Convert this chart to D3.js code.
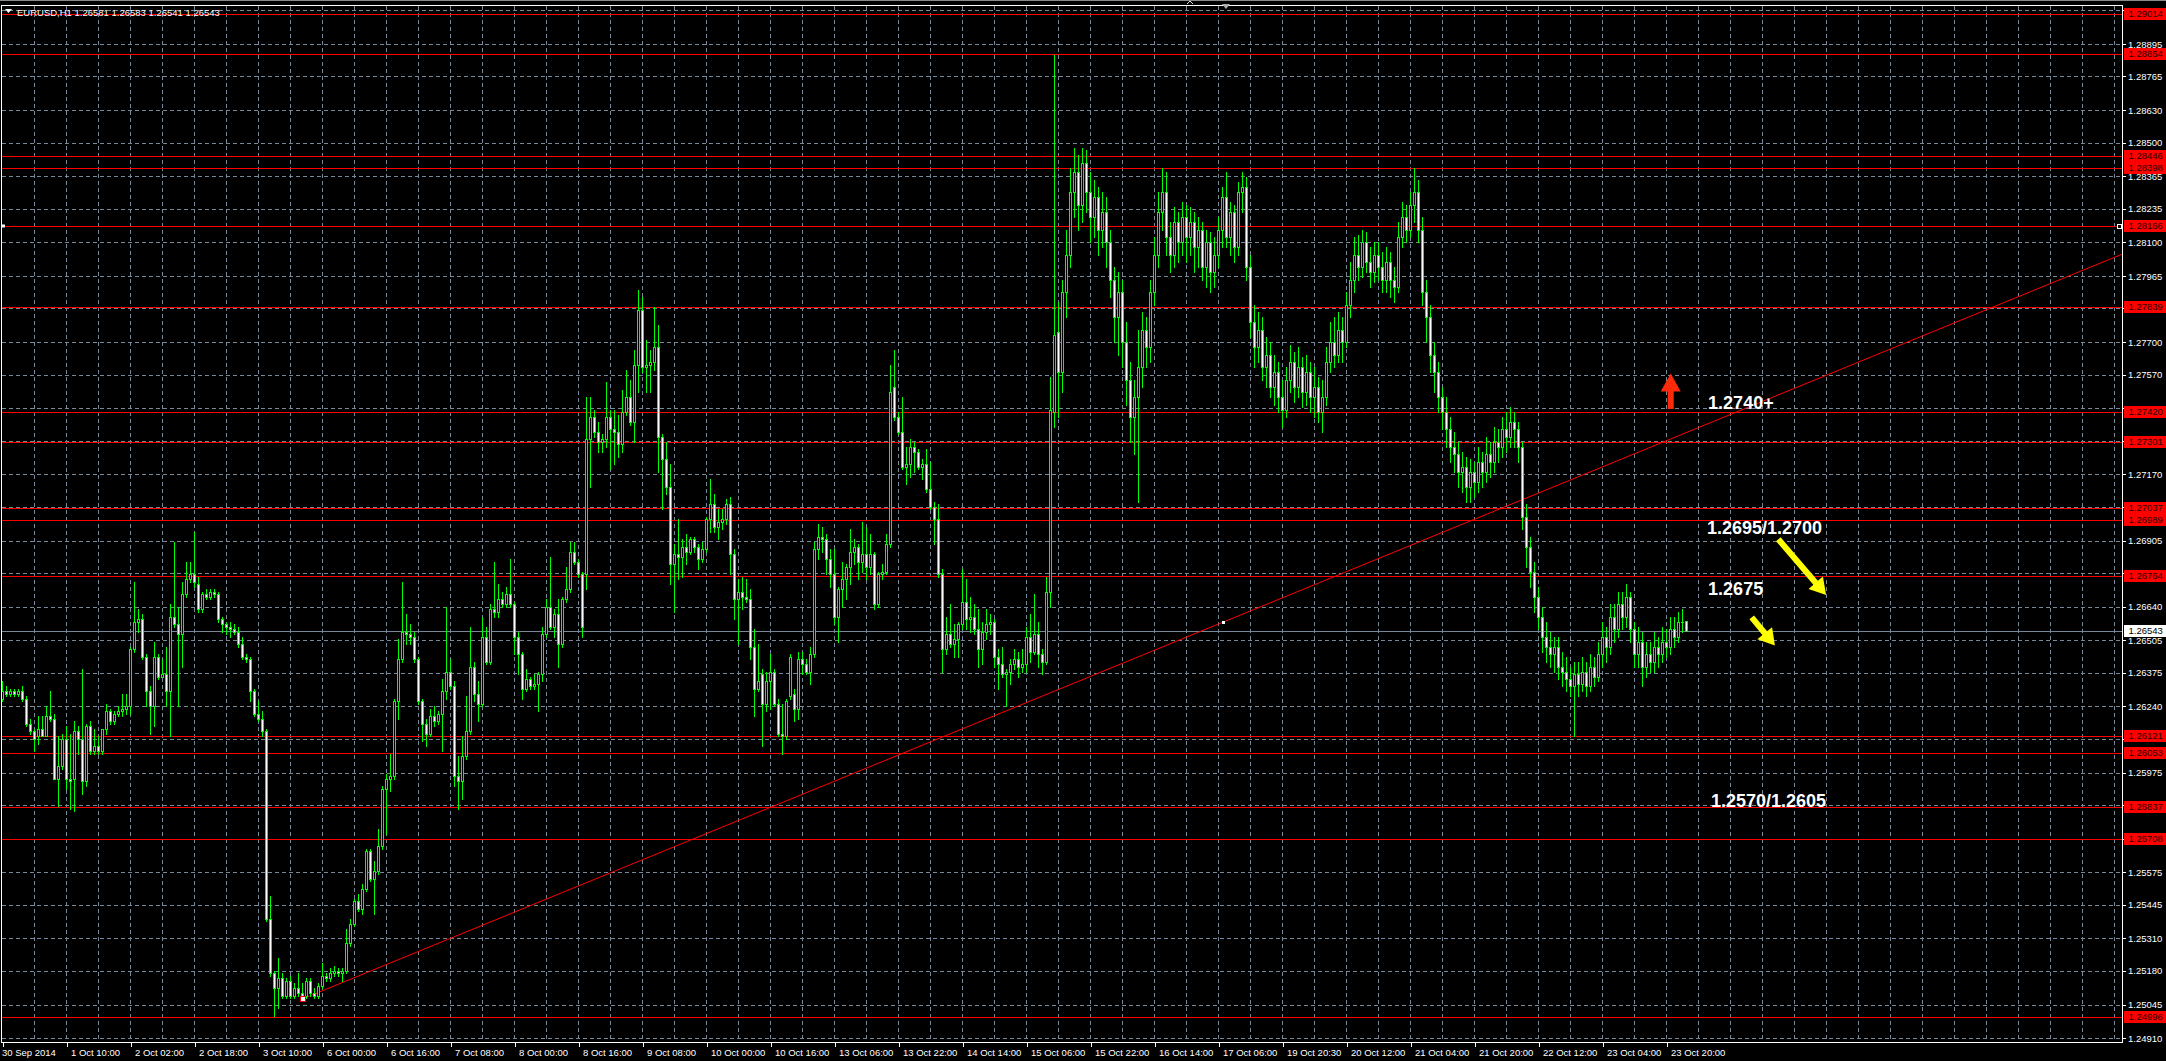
<!DOCTYPE html>
<html><head><meta charset="utf-8">
<script src="https://cdn.jsdelivr.net/npm/d3@7"></script>
<style>
html,body{margin:0;padding:0;background:#000;overflow:hidden}
svg{display:block}
text{font-family:"Liberation Sans",Arial,sans-serif}
</style></head><body>
<svg id="c" width="2166" height="1061"></svg>
<script>
// ---------------- DATA ----------------
const symbolTitle = "EURUSD,H1  1.26581 1.26583 1.26541 1.26543";

const opens = [
1.2627,1.2630,1.2629,1.2630,1.2629,1.2630,1.2627,1.2617,1.2614,1.2612,
1.2615,1.2612,1.2620,1.2619,1.2595,1.2600,1.2611,1.2595,1.2595,1.2614,
1.2611,1.2594,1.2616,1.2606,1.2608,1.2606,1.2615,1.2622,1.2618,1.2621,
1.2622,1.2623,1.2624,1.2647,1.2658,1.2659,1.2644,1.2630,1.2624,1.2644,
1.2636,1.2637,1.2630,1.2660,1.2657,1.2653,1.2669,1.2675,1.2677,1.2673,
1.2663,1.2669,1.2668,1.2670,1.2669,1.2659,1.2657,1.2656,1.2655,1.2654,
1.2649,1.2644,1.2643,1.2630,1.2621,1.2619,1.2614,1.2539,1.2517,1.2511,
1.2515,1.2508,1.2514,1.2508,1.2511,1.2509,1.2508,1.2514,1.2509,1.2508,
1.2512,1.2516,1.2515,1.2517,1.2518,1.2517,1.2518,1.2529,1.2537,1.2546,
1.2543,1.2551,1.2566,1.2555,1.2558,1.2568,1.2591,1.2595,1.2596,1.2626,
1.2643,1.2654,1.2653,1.2652,1.2643,1.2626,1.2617,1.2613,1.2620,1.2618,
1.2621,1.2630,1.2638,1.2632,1.2596,1.2594,1.2604,1.2614,1.2640,1.2629,
1.2625,1.2652,1.2642,1.2663,1.2662,1.2667,1.2665,1.2669,1.2665,1.2652,
1.2645,1.2631,1.2635,1.2632,1.2633,1.2637,1.2653,1.2664,1.2656,1.2661,
1.2649,1.2667,1.2671,1.2686,1.2682,1.2677,1.2677,1.2731,1.2740,1.2734,
1.2730,1.2731,1.2740,1.2735,1.2734,1.2729,1.2742,1.2748,1.2738,1.2761,
1.2783,1.2760,1.2761,1.2762,1.2768,1.2732,1.2723,1.2712,1.2681,1.2685,
1.2684,1.2688,1.2686,1.2691,1.2688,1.2683,1.2687,1.2699,1.2705,1.2696,
1.2698,1.2699,1.2705,1.2685,1.2667,1.2670,1.2668,1.2667,1.2648,1.2631,
1.2637,1.2625,1.2634,1.2638,1.2625,1.2613,1.2612,1.2628,1.2629,1.2623,
1.2643,1.2641,1.2638,1.2645,1.2687,1.2692,1.2691,1.2683,1.2677,1.2660,
1.2671,1.2675,1.2680,1.2686,1.2688,1.2682,1.2685,1.2680,1.2685,1.2665,
1.2677,1.2678,1.2689,1.2752,1.2740,1.2734,1.2720,1.2721,1.2728,1.2726,
1.2720,1.2721,1.2711,1.2704,1.2699,1.2677,1.2647,1.2653,1.2649,1.2651,
1.2657,1.2666,1.2659,1.2660,1.2655,1.2647,1.2654,1.2657,1.2658,1.2644,
1.2641,1.2637,1.2638,1.2641,1.2643,1.2640,1.2641,1.2652,1.2646,1.2653,
1.2645,1.2642,1.2670,1.2742,1.2774,1.2758,1.2790,1.2805,1.2830,1.2838,
1.2825,1.2842,1.2830,1.2820,1.2828,1.2815,1.2822,1.2810,1.2795,1.2780,
1.2790,1.2770,1.2755,1.2740,1.2748,1.2760,1.2775,1.2768,1.2790,1.2805,
1.2822,1.2830,1.2812,1.2805,1.2818,1.2810,1.2820,1.2812,1.2818,1.2808,
1.2815,1.2800,1.2810,1.2798,1.2805,1.2815,1.2828,1.2812,1.2822,1.2808,
1.2830,1.2832,1.2800,1.2778,1.2768,1.2775,1.2760,1.2765,1.2752,1.2758,
1.2748,1.2743,1.2755,1.2762,1.2752,1.2760,1.2750,1.2758,1.2748,1.2752,
1.2742,1.2748,1.2762,1.2770,1.2765,1.2775,1.2770,1.2785,1.2795,1.2805,
1.2800,1.2810,1.2802,1.2798,1.2805,1.2800,1.2795,1.2802,1.2795,1.2792,
1.2812,1.2820,1.2815,1.2825,1.2830,1.2815,1.2790,1.2780,1.2765,1.2758,
1.2748,1.2742,1.2735,1.2728,1.2725,1.2718,1.2720,1.2712,1.2718,1.2714,
1.2722,1.2718,1.2725,1.2722,1.2730,1.2728,1.2735,1.2732,1.2738,1.2735,
1.2728,1.2700,1.2688,1.2678,1.2668,1.2660,1.2652,1.2648,1.2645,1.2648,
1.2640,1.2638,1.2635,1.2632,1.2637,1.2633,1.2638,1.2632,1.2640,1.2636,
1.2645,1.2652,1.2648,1.2660,1.2655,1.2665,1.2660,1.2668,1.2655,1.2645,
1.2650,1.2640,1.2645,1.2642,1.2648,1.2645,1.2650,1.2648,1.2655,1.2652,
1.2658,1.26581];

const highs = [
1.2634,1.2632,1.2631,1.2631,1.2631,1.2632,1.2628,1.2619,1.2615,1.2620,
1.2620,1.2624,1.2630,1.2621,1.2612,1.2613,1.2616,1.2613,1.2618,1.2616,
1.2639,1.2617,1.2618,1.2615,1.2612,1.2615,1.2625,1.2623,1.2622,1.2624,
1.2629,1.2629,1.2648,1.2674,1.2663,1.2661,1.2645,1.2632,1.2650,1.2645,
1.2643,1.2648,1.2665,1.2690,1.2664,1.2674,1.2682,1.2682,1.2694,1.2676,
1.2670,1.2671,1.2671,1.2671,1.2670,1.2660,1.2658,1.2658,1.2657,1.2656,
1.2652,1.2645,1.2644,1.2631,1.2626,1.2622,1.2615,1.2548,1.2518,1.2523,
1.2517,1.2515,1.2516,1.2513,1.2517,1.2513,1.2515,1.2515,1.2511,1.2513,
1.2521,1.2517,1.2519,1.2520,1.2519,1.2519,1.2535,1.2539,1.2547,1.2549,
1.2553,1.2567,1.2567,1.2562,1.2575,1.2592,1.2597,1.2605,1.2627,1.2651,
1.2674,1.2661,1.2657,1.2654,1.2644,1.2627,1.2619,1.2623,1.2624,1.2622,
1.2635,1.2664,1.2643,1.2634,1.2604,1.2612,1.2628,1.2656,1.2642,1.2634,
1.2660,1.2656,1.2665,1.2682,1.2673,1.2670,1.2672,1.2683,1.2666,1.2654,
1.2646,1.2639,1.2636,1.2637,1.2638,1.2656,1.2667,1.2684,1.2663,1.2667,
1.2668,1.2680,1.2690,1.2690,1.2683,1.2678,1.2748,1.2748,1.2743,1.2738,
1.2733,1.2754,1.2743,1.2743,1.2741,1.2751,1.2759,1.2755,1.2767,1.2791,
1.2788,1.2771,1.2767,1.2784,1.2777,1.2733,1.2730,1.2721,1.2689,1.2699,
1.2691,1.2693,1.2692,1.2692,1.2689,1.2690,1.2700,1.2715,1.2709,1.2703,
1.2703,1.2707,1.2708,1.2687,1.2675,1.2676,1.2675,1.2671,1.2655,1.2649,
1.2639,1.2638,1.2645,1.2639,1.2627,1.2625,1.2627,1.2645,1.2631,1.2646,
1.2646,1.2643,1.2648,1.2690,1.2697,1.2696,1.2693,1.2687,1.2687,1.2672,
1.2682,1.2681,1.2695,1.2691,1.2689,1.2698,1.2696,1.2693,1.2686,1.2678,
1.2681,1.2693,1.2761,1.2767,1.2742,1.2748,1.2728,1.2731,1.2730,1.2727,
1.2723,1.2727,1.2722,1.2706,1.2705,1.2679,1.2660,1.2665,1.2657,1.2658,
1.2679,1.2675,1.2668,1.2665,1.2663,1.2658,1.2663,1.2661,1.2659,1.2647,
1.2648,1.2639,1.2643,1.2647,1.2646,1.2647,1.2656,1.2661,1.2669,1.2658,
1.2647,1.2676,1.2756,1.2885,1.2786,1.2795,1.2815,1.2840,1.2848,1.2845,
1.2848,1.2847,1.2838,1.2835,1.2832,1.2830,1.2828,1.2815,1.2800,1.2798,
1.2795,1.2778,1.2762,1.2755,1.2775,1.2782,1.2780,1.2795,1.2812,1.2830,
1.2840,1.2838,1.2818,1.2824,1.2822,1.2826,1.2825,1.2824,1.2822,1.2820,
1.2818,1.2815,1.2814,1.2812,1.2820,1.2832,1.2838,1.2826,1.2825,1.2834,
1.2838,1.2836,1.2805,1.2785,1.2782,1.2780,1.2772,1.2770,1.2765,1.2762,
1.2755,1.2760,1.2769,1.2766,1.2768,1.2764,1.2765,1.2762,1.2760,1.2756,
1.2755,1.2768,1.2778,1.2780,1.2782,1.2780,1.2790,1.2802,1.2812,1.2813,
1.2815,1.2814,1.2808,1.2810,1.2810,1.2806,1.2808,1.2806,1.2800,1.2818,
1.2826,1.2825,1.2830,1.2840,1.2835,1.2820,1.2795,1.2785,1.2770,1.2762,
1.2752,1.2748,1.2740,1.2734,1.2730,1.2726,1.2724,1.2723,1.2722,1.2728,
1.2726,1.2732,1.2730,1.2736,1.2735,1.2740,1.2742,1.2744,1.2742,1.2738,
1.2730,1.2705,1.2692,1.2682,1.2672,1.2664,1.2658,1.2654,1.2652,1.2652,
1.2646,1.2644,1.2640,1.2642,1.2642,1.2644,1.2642,1.2645,1.2644,1.2650,
1.2658,1.2656,1.2665,1.2665,1.2670,1.2670,1.2673,1.2670,1.2658,1.2656,
1.2654,1.2650,1.2650,1.2654,1.2652,1.2656,1.2655,1.2660,1.2660,1.2662,
1.2663,1.26583];

const lows = [
1.2626,1.2628,1.2628,1.2628,1.2628,1.2626,1.2616,1.2613,1.2606,1.2609,
1.2612,1.2612,1.2618,1.2595,1.2584,1.2599,1.2591,1.2583,1.2582,1.2605,
1.2589,1.2592,1.2605,1.2605,1.2605,1.2605,1.2613,1.2617,1.2617,1.2620,
1.2620,1.2621,1.2621,1.2646,1.2654,1.2643,1.2624,1.2613,1.2616,1.2635,
1.2636,1.2624,1.2612,1.2656,1.2624,1.2640,1.2668,1.2674,1.2672,1.2662,
1.2662,1.2667,1.2667,1.2668,1.2658,1.2654,1.2653,1.2652,1.2653,1.2648,
1.2643,1.2642,1.2626,1.2620,1.2618,1.2612,1.2538,1.2516,1.2500,1.2503,
1.2507,1.2507,1.2507,1.2507,1.2508,1.2507,1.2507,1.2508,1.2507,1.2507,
1.2511,1.2514,1.2514,1.2516,1.2516,1.2514,1.2517,1.2528,1.2536,1.2542,
1.2541,1.2550,1.2554,1.2541,1.2557,1.2567,1.2573,1.2590,1.2595,1.2619,
1.2642,1.2649,1.2649,1.2642,1.2625,1.2610,1.2608,1.2612,1.2616,1.2617,
1.2606,1.2627,1.2631,1.2592,1.2583,1.2587,1.2603,1.2613,1.2626,1.2618,
1.2624,1.2641,1.2641,1.2660,1.2660,1.2664,1.2664,1.2664,1.2645,1.2637,
1.2627,1.2630,1.2631,1.2631,1.2622,1.2634,1.2652,1.2655,1.2652,1.2640,
1.2648,1.2666,1.2670,1.2681,1.2676,1.2652,1.2671,1.2712,1.2732,1.2726,
1.2726,1.2728,1.2719,1.2721,1.2724,1.2726,1.2741,1.2737,1.2730,1.2750,
1.2758,1.2750,1.2750,1.2759,1.2718,1.2703,1.2709,1.2673,1.2662,1.2675,
1.2676,1.2681,1.2685,1.2686,1.2679,1.2682,1.2686,1.2694,1.2694,1.2691,
1.2695,1.2697,1.2677,1.2659,1.2649,1.2663,1.2666,1.2643,1.2620,1.2630,
1.2608,1.2622,1.2623,1.2624,1.2612,1.2605,1.2611,1.2627,1.2618,1.2619,
1.2637,1.2637,1.2633,1.2644,1.2683,1.2686,1.2677,1.2672,1.2657,1.2650,
1.2664,1.2667,1.2673,1.2681,1.2675,1.2678,1.2675,1.2677,1.2663,1.2664,
1.2675,1.2677,1.2688,1.2739,1.2733,1.2719,1.2713,1.2716,1.2718,1.2719,
1.2715,1.2710,1.2703,1.2689,1.2676,1.2638,1.2645,1.2648,1.2644,1.2644,
1.2655,1.2655,1.2654,1.2653,1.2640,1.2641,1.2651,1.2653,1.2640,1.2631,
1.2636,1.2624,1.2633,1.2639,1.2636,1.2638,1.2638,1.2642,1.2645,1.2640,
1.2637,1.2641,1.2664,1.2736,1.2740,1.2750,1.2780,1.2800,1.2820,1.2815,
1.2818,1.2822,1.2810,1.2812,1.2805,1.2808,1.2800,1.2788,1.2770,1.2765,
1.2760,1.2745,1.2730,1.2725,1.2706,1.2752,1.2760,1.2762,1.2785,1.2800,
1.2815,1.2805,1.2798,1.2800,1.2802,1.2805,1.2802,1.2805,1.2798,1.2800,
1.2795,1.2792,1.2790,1.2792,1.2800,1.2808,1.2808,1.2805,1.2802,1.2805,
1.2822,1.2795,1.2772,1.2760,1.2762,1.2755,1.2752,1.2748,1.2745,1.2742,
1.2736,1.2740,1.2750,1.2746,1.2748,1.2744,1.2745,1.2742,1.2740,1.2738,
1.2734,1.2745,1.2758,1.2760,1.2762,1.2762,1.2768,1.2780,1.2790,1.2795,
1.2796,1.2798,1.2792,1.2794,1.2795,1.2790,1.2790,1.2788,1.2786,1.2790,
1.2808,1.2810,1.2812,1.2818,1.2810,1.2785,1.2770,1.2758,1.2750,1.2742,
1.2735,1.2728,1.2722,1.2718,1.2712,1.2710,1.2706,1.2706,1.2708,1.2710,
1.2712,1.2714,1.2716,1.2718,1.2722,1.2724,1.2726,1.2728,1.2728,1.2722,
1.2695,1.2680,1.2672,1.2662,1.2655,1.2646,1.2642,1.2640,1.2638,1.2635,
1.2632,1.2630,1.2628,1.2612,1.2628,1.2630,1.2628,1.2630,1.2632,1.2634,
1.2640,1.2642,1.2645,1.2650,1.2652,1.2655,1.2656,1.2650,1.2640,1.2640,
1.2632,1.2636,1.2638,1.2638,1.2640,1.2642,1.2644,1.2645,1.2648,1.2650,
1.2654,1.26541];

const closes = [
1.2630,1.2629,1.2630,1.2629,1.2630,1.2627,1.2617,1.2614,1.2611,1.2615,
1.2612,1.2620,1.2619,1.2595,1.2600,1.2611,1.2595,1.2594,1.2614,1.2611,
1.2594,1.2616,1.2606,1.2608,1.2606,1.2615,1.2622,1.2618,1.2621,1.2622,
1.2623,1.2624,1.2647,1.2658,1.2659,1.2644,1.2630,1.2624,1.2644,1.2636,
1.2637,1.2630,1.2660,1.2657,1.2653,1.2669,1.2675,1.2677,1.2674,1.2663,
1.2669,1.2668,1.2670,1.2669,1.2659,1.2657,1.2656,1.2655,1.2654,1.2649,
1.2644,1.2643,1.2630,1.2621,1.2619,1.2614,1.2539,1.2517,1.2511,1.2515,
1.2508,1.2514,1.2508,1.2511,1.2509,1.2508,1.2514,1.2509,1.2508,1.2512,
1.2516,1.2515,1.2517,1.2518,1.2517,1.2518,1.2529,1.2537,1.2546,1.2543,
1.2551,1.2566,1.2555,1.2558,1.2568,1.2591,1.2595,1.2596,1.2626,1.2643,
1.2654,1.2653,1.2652,1.2643,1.2626,1.2617,1.2613,1.2620,1.2618,1.2621,
1.2630,1.2638,1.2632,1.2596,1.2594,1.2604,1.2614,1.2640,1.2629,1.2625,
1.2652,1.2642,1.2663,1.2662,1.2667,1.2665,1.2669,1.2665,1.2652,1.2645,
1.2631,1.2635,1.2632,1.2633,1.2637,1.2653,1.2664,1.2656,1.2661,1.2649,
1.2667,1.2671,1.2686,1.2682,1.2677,1.2656,1.2731,1.2740,1.2734,1.2730,
1.2731,1.2740,1.2735,1.2734,1.2729,1.2742,1.2748,1.2738,1.2761,1.2783,
1.2760,1.2761,1.2762,1.2768,1.2732,1.2723,1.2712,1.2681,1.2685,1.2684,
1.2688,1.2686,1.2691,1.2688,1.2683,1.2687,1.2699,1.2705,1.2696,1.2698,
1.2699,1.2705,1.2685,1.2667,1.2670,1.2668,1.2667,1.2648,1.2631,1.2634,
1.2625,1.2634,1.2638,1.2625,1.2613,1.2612,1.2626,1.2644,1.2623,1.2643,
1.2641,1.2638,1.2645,1.2687,1.2692,1.2691,1.2683,1.2677,1.2660,1.2671,
1.2675,1.2680,1.2686,1.2688,1.2682,1.2685,1.2680,1.2685,1.2665,1.2677,
1.2678,1.2689,1.2750,1.2740,1.2734,1.2720,1.2721,1.2728,1.2726,1.2720,
1.2721,1.2711,1.2704,1.2699,1.2677,1.2647,1.2653,1.2649,1.2651,1.2657,
1.2666,1.2659,1.2660,1.2655,1.2647,1.2654,1.2657,1.2658,1.2644,1.2641,
1.2637,1.2638,1.2641,1.2643,1.2640,1.2641,1.2652,1.2646,1.2653,1.2645,
1.2642,1.2670,1.2743,1.2773,1.2758,1.2790,1.2805,1.2830,1.2838,1.2825,
1.2842,1.2830,1.2820,1.2828,1.2815,1.2822,1.2810,1.2795,1.2780,1.2790,
1.2770,1.2755,1.2740,1.2748,1.2760,1.2775,1.2768,1.2790,1.2805,1.2822,
1.2830,1.2812,1.2805,1.2818,1.2810,1.2820,1.2812,1.2818,1.2808,1.2815,
1.2800,1.2810,1.2798,1.2805,1.2815,1.2828,1.2812,1.2822,1.2808,1.2830,
1.2832,1.2800,1.2778,1.2768,1.2775,1.2760,1.2765,1.2752,1.2758,1.2748,
1.2743,1.2755,1.2762,1.2752,1.2760,1.2750,1.2758,1.2748,1.2752,1.2742,
1.2748,1.2762,1.2770,1.2765,1.2775,1.2770,1.2785,1.2795,1.2805,1.2800,
1.2810,1.2802,1.2798,1.2805,1.2800,1.2795,1.2802,1.2795,1.2792,1.2812,
1.2820,1.2815,1.2825,1.2830,1.2815,1.2790,1.2780,1.2765,1.2758,1.2748,
1.2742,1.2735,1.2728,1.2725,1.2718,1.2720,1.2712,1.2718,1.2714,1.2722,
1.2718,1.2725,1.2722,1.2730,1.2728,1.2735,1.2732,1.2738,1.2735,1.2728,
1.2700,1.2688,1.2678,1.2668,1.2660,1.2652,1.2648,1.2645,1.2648,1.2640,
1.2638,1.2635,1.2632,1.2637,1.2633,1.2638,1.2632,1.2640,1.2636,1.2645,
1.2652,1.2648,1.2660,1.2655,1.2665,1.2660,1.2668,1.2655,1.2645,1.2650,
1.2640,1.2645,1.2642,1.2648,1.2645,1.2650,1.2648,1.2655,1.2652,1.2658,
1.2658,1.26543];

const timeTickBars = [0,16,32,48,64,80,96,112,128,144,160,176,192,208,224,240,256,272,288,304,320,336,352,368,384,400,416];
const timeLabels = ["30 Sep 2014","1 Oct 10:00","2 Oct 02:00","2 Oct 18:00","3 Oct 10:00","6 Oct 00:00","6 Oct 16:00","7 Oct 08:00","8 Oct 00:00","8 Oct 16:00","9 Oct 08:00","10 Oct 00:00","10 Oct 16:00","13 Oct 06:00","13 Oct 22:00","14 Oct 14:00","15 Oct 06:00","15 Oct 22:00","16 Oct 14:00","17 Oct 06:00","19 Oct 20:30","20 Oct 12:00","21 Oct 04:00","21 Oct 20:00","22 Oct 12:00","23 Oct 04:00","23 Oct 20:00"];

const priceTicks = [1.29030,1.28895,1.28765,1.28630,1.28500,1.28365,1.28235,1.28100,1.27965,1.27835,1.27700,1.27570,1.27435,1.27305,1.27170,1.27040,1.26905,1.26775,1.26640,1.26505,1.26375,1.26240,1.26110,1.25975,1.25845,1.25710,1.25575,1.25445,1.25310,1.25180,1.25045,1.24910];

const levelPrices = [1.29014,1.28854,1.28446,1.28398,1.28166,1.27839,1.27420,1.27301,1.27037,1.26989,1.26764,1.26121,1.26053,1.25837,1.25708,1.24996];
const selectedLevel = 1.28166;
const bidPrice = 1.26543;

const trendBars = [75, 305];
const trendPrices = [1.25068, 1.26577];

const noteTexts = ["1.2740+","1.2695/1.2700","1.2675","1.2570/1.2605"];
const noteBars = [426.4, 426.1, 426.4, 427.1];
const notePrices = [1.27432, 1.26931, 1.26685, 1.25837];

const arrowColors = ["#ff2a0a","#ffff00","#ffff00"];
const arrowFrom = [[417.05,1.27432],[443.95,1.26910],[437.3,1.26597]];
const arrowTo = [[417.05,1.27575],[455.9,1.26687],[443.1,1.26484]];

// ---------------- CHART ----------------
const W = 2166, H = 1061;
const plotL = 1.5, plotR = 2122.5, plotT = 5.5, plotB = 1042.5;
const svg = d3.select("#c");
svg.append("rect").attr("width",W).attr("height",H).attr("fill","#000");

const x = d3.scaleLinear().domain([0,1]).range([2.5,6.5]);
const y = d3.scaleLinear().domain([1.24910,1.28895]).range([1038.3,44]);
const px = v => Math.round(v) + 0.5;

const gridColor = "#778899";
const grid = svg.append("g").attr("shape-rendering","crispEdges");
const vBars = d3.range(8, 600, 8).filter(b => x(b) < plotR - 2);
grid.selectAll("line.v").data(vBars).enter().append("line")
  .attr("x1", d => px(x(d)-0.5)).attr("x2", d => px(x(d)-0.5))
  .attr("y1", plotT).attr("y2", plotB)
  .attr("stroke", gridColor).attr("stroke-width",1).attr("stroke-dasharray","4,3");
grid.selectAll("line.h").data(priceTicks.filter(p => y(p) > plotT && y(p) < plotB)).enter().append("line")
  .attr("x1", plotL).attr("x2", plotR)
  .attr("y1", d => px(y(d))).attr("y2", d => px(y(d)))
  .attr("stroke", gridColor).attr("stroke-width",1).attr("stroke-dasharray","4,3");

const lv = svg.append("g").attr("shape-rendering","crispEdges");
lv.selectAll("line").data(levelPrices).enter().append("line")
  .attr("x1", plotL).attr("x2", plotR)
  .attr("y1", d => px(y(d))).attr("y2", d => px(y(d)))
  .attr("stroke","#ff0000").attr("stroke-width",1);

svg.append("line").attr("x1",plotL).attr("x2",plotR)
  .attr("y1",px(y(bidPrice))).attr("y2",px(y(bidPrice)))
  .attr("stroke","#778899").attr("stroke-width",1).attr("shape-rendering","crispEdges");

const tx1 = x(trendBars[0]), ty1 = y(trendPrices[0]);
const tx2 = x(trendBars[1]), ty2 = y(trendPrices[1]);
const slope = (ty2-ty1)/(tx2-tx1);
svg.append("line").attr("x1",tx1).attr("y1",ty1)
  .attr("x2",plotR).attr("y2",ty1 + slope*(plotR-tx1))
  .attr("stroke","#ff0000").attr("stroke-width",1);

const bars = d3.range(opens.length).map(i => ({i, o:opens[i], h:highs[i], l:lows[i], c:closes[i]}));
const cg = svg.append("g").attr("shape-rendering","crispEdges");
const colX = d => Math.floor(x(d.i));
const bodyTop = d => Math.round(y(Math.max(d.o,d.c)));
const bodyBot = d => Math.round(y(Math.min(d.o,d.c)));
cg.selectAll("rect.w").data(bars).enter().append("rect")
  .attr("x", d => colX(d)).attr("width",1)
  .attr("y", d => Math.round(y(d.h)))
  .attr("height", d => Math.max(1, Math.round(y(d.l)) - Math.round(y(d.h)) + 1))
  .attr("fill","#00ff00");
cg.selectAll("rect.b").data(bars).enter().append("rect")
  .attr("x", d => colX(d)-1).attr("width",3)
  .attr("y", bodyTop)
  .attr("height", d => Math.max(1, bodyBot(d) - bodyTop(d) + 1))
  .attr("fill","#00ff00");
cg.selectAll("rect.f").data(bars.filter(d => bodyBot(d) - bodyTop(d) >= 2)).enter().append("rect")
  .attr("x", d => colX(d)).attr("width",1)
  .attr("y", d => bodyTop(d) + 1)
  .attr("height", d => bodyBot(d) - bodyTop(d) - 1)
  .attr("fill", d => d.c > d.o ? "#000000" : "#ffffff");

svg.append("rect").attr("x",tx1-2.5).attr("y",ty1-2).attr("width",5).attr("height",5)
  .attr("fill","#fff").attr("stroke","#ff0000").attr("stroke-width",1).attr("shape-rendering","crispEdges");
svg.append("rect").attr("x",tx2-1).attr("y",ty2-1.5).attr("width",3).attr("height",3)
  .attr("fill","#fff").attr("shape-rendering","crispEdges");
svg.append("rect").attr("x",2).attr("y",Math.round(y(selectedLevel))-1.5).attr("width",3).attr("height",3).attr("fill","#fff");
svg.append("rect").attr("x",2117.5).attr("y",Math.round(y(selectedLevel))-1.5).attr("width",4).attr("height",4)
  .attr("fill","#000").attr("stroke","#fff").attr("stroke-width",1);

svg.append("rect").attr("x",plotL).attr("y",plotT).attr("width",plotR-plotL).attr("height",plotB-plotT)
  .attr("fill","none").attr("stroke","#ffffff").attr("stroke-width",1).attr("shape-rendering","crispEdges");

const ya = svg.append("g").attr("transform",`translate(${plotR},0)`)
  .call(d3.axisRight(y).tickValues(priceTicks).tickSize(3).tickFormat(d => d.toFixed(5)));
ya.select(".domain").remove();
ya.selectAll("line").attr("stroke","#fff").attr("shape-rendering","crispEdges");
ya.selectAll("text").attr("fill","#fff").attr("font-size","9.5px").attr("x",5.5)
  .attr("font-family","'Liberation Sans',Arial,sans-serif");

const xa = svg.append("g").attr("transform",`translate(0,${plotB})`)
  .call(d3.axisBottom(x).tickValues(timeTickBars).tickSize(4).tickFormat((d,i) => timeLabels[i]));
xa.select(".domain").remove();
xa.selectAll("line").attr("stroke","#fff").attr("shape-rendering","crispEdges");
xa.selectAll("text").attr("fill","#fff").attr("font-size","9.5px")
  .attr("text-anchor","start").attr("x",(d,i) => i === 0 ? -1 : 4).attr("y",13).attr("dy",0)
  .attr("font-family","'Liberation Sans',Arial,sans-serif");

const ll = svg.append("g");
ll.selectAll("rect").data(levelPrices).enter().append("rect")
  .attr("x",plotR+1.5).attr("width",W-plotR).attr("y",d => Math.round(y(d))-6).attr("height",12)
  .attr("fill","#ff0000");
ll.selectAll("text").data(levelPrices).enter().append("text")
  .attr("x",plotR+6).attr("y",d => Math.round(y(d))).attr("dy","0.35em")
  .attr("fill","#2a0000").attr("font-size","9.5px").text(d => d.toFixed(5));
svg.append("rect").attr("x",plotR+1.5).attr("width",W-plotR).attr("y",Math.round(y(bidPrice))-6).attr("height",12).attr("fill","#fff");
svg.append("text").attr("x",plotR+6).attr("y",Math.round(y(bidPrice))).attr("dy","0.35em")
  .attr("fill","#000").attr("font-size","9.5px").text(bidPrice.toFixed(5));

svg.append("line").attr("x1",0).attr("x2",W).attr("y1",0.5).attr("y2",0.5).attr("stroke","#8a8a8a");
svg.append("path").attr("d","M5,9 L12,9 L8.5,13 Z").attr("fill","#fff");
svg.append("text").attr("x",17).attr("y",16).attr("fill","#fff").attr("font-size","9.5px").text(symbolTitle);
svg.append("path").attr("d","M1222,4 L1230,4 L1226,9 Z").attr("fill","#aaaaaa");
svg.append("path").attr("d","M1187,4 L1190,1 L1193,4").attr("fill","none").attr("stroke","#ddd");

const ng = svg.append("g");
ng.selectAll("text").data(noteTexts).enter().append("text")
  .attr("x",(d,i) => x(noteBars[i])).attr("y",(d,i) => y(notePrices[i]))
  .attr("fill","#ffffff").attr("font-size","18px").attr("font-weight","bold")
  .attr("font-family","'Liberation Sans',Arial,sans-serif").text(d => d);

function arrowPath(x1,y1,x2,y2,shaftW,headW,headL){
  const dx=x2-x1, dy=y2-y1, len=Math.hypot(dx,dy);
  const ux=dx/len, uy=dy/len, nx=-uy, ny=ux;
  const bx=x2-ux*headL, by=y2-uy*headL;
  const pts=[[x1+nx*shaftW/2,y1+ny*shaftW/2],[bx+nx*shaftW/2,by+ny*shaftW/2],[bx+nx*headW/2,by+ny*headW/2],[x2,y2],
             [bx-nx*headW/2,by-ny*headW/2],[bx-nx*shaftW/2,by-ny*shaftW/2],[x1-nx*shaftW/2,y1-ny*shaftW/2]];
  return "M"+pts.map(p => p[0].toFixed(1)+","+p[1].toFixed(1)).join("L")+"Z";
}
const ag = svg.append("g");
arrowColors.forEach((c,i) => {
  ag.append("path")
    .attr("d", arrowPath(x(arrowFrom[i][0]), y(arrowFrom[i][1]), x(arrowTo[i][0]), y(arrowTo[i][1]), 6, i===0?20:19, i===0?18:16))
    .attr("fill", c);
});
</script>
</body></html>
